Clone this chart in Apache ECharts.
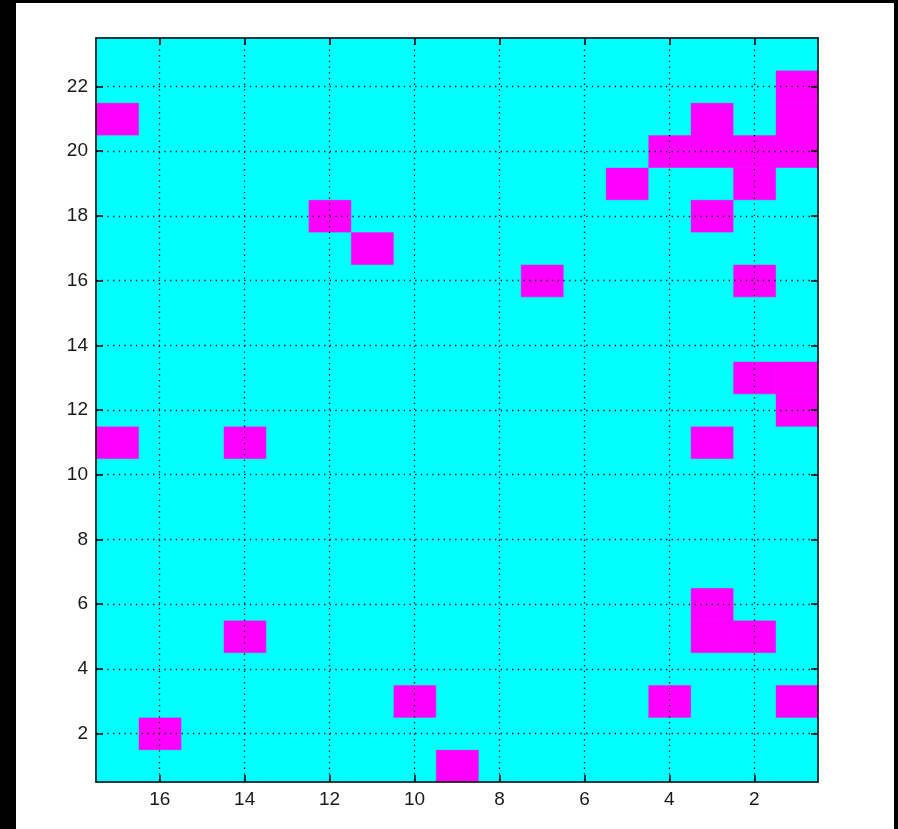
<!DOCTYPE html>
<html>
<head>
<meta charset="utf-8">
<script src="https://cdn.jsdelivr.net/npm/echarts@6/dist/echarts.min.js"></script>
<style>
  html, body { margin: 0; padding: 0; background: #fff; }
  #main { width: 898px; height: 829px; }
</style>
</head>
<body>
<div id="main"></div>
<script>
// grid size (columns along x, rows along y)
const nCols = 17
const nRows = 23
// tick labels
const xTicks = [2, 4, 6, 8, 10, 12, 14, 16]
const yTicks = [2, 4, 6, 8, 10, 12, 14, 16, 18, 20, 22]
// magenta cells as [column, row], everything else is cyan
const magentaCells = [
  [1, 22],
  [17, 21], [3, 21], [1, 21],
  [4, 20], [3, 20], [2, 20], [1, 20],
  [5, 19], [2, 19],
  [12, 18], [3, 18],
  [11, 17],
  [7, 16], [2, 16],
  [2, 13], [1, 13],
  [1, 12],
  [17, 11], [14, 11], [3, 11],
  [3, 6],
  [14, 5], [3, 5], [2, 5],
  [10, 3], [4, 3], [1, 3],
  [16, 2],
  [9, 1]
]

const colors = ['#00ffff', '#ff00ff']

// full matrix [x, y, value]
const cells = []
for (let y = 1; y <= nRows; y++) {
  for (let x = 1; x <= nCols; x++) {
    const hit = magentaCells.some(c => c[0] === x && c[1] === y)
    cells.push([x, y, hit ? 1 : 0])
  }
}

const chart = echarts.init(document.getElementById('main'))

const labelStyle = {
  color: '#1a1a1a',
  fontFamily: 'Liberation Sans',
  fontSize: 19,
  margin: 8
}
const dotted = { color: '#000', width: 1.3, type: [1.3, 4.4] }

const option = {
  animation: false,
  backgroundColor: '#fff',
  graphic: [
    { type: 'rect', shape: { x: 0, y: 0, width: 16, height: 829 }, style: { fill: '#000' } },
    { type: 'rect', shape: { x: 0, y: 0, width: 898, height: 3 }, style: { fill: '#000' } },
    { type: 'rect', shape: { x: 894, y: 0, width: 4, height: 829 }, style: { fill: '#000' } }
  ],
  grid: {
    left: 96,
    top: 38,
    width: 722,
    height: 744,
    show: true,
    backgroundColor: '#00ffff',
    borderWidth: 0
  },
  xAxis: [
    {
      type: 'value',
      min: 0.5,
      max: nCols + 0.5,
      inverse: true,
      z: 10,
      axisLine: { lineStyle: { color: '#000', width: 1.5 } },
      axisTick: { inside: true, length: 7, customValues: xTicks, lineStyle: { color: '#000', width: 1.5 } },
      axisLabel: Object.assign({ customValues: xTicks }, labelStyle),
      splitLine: { show: true, lineStyle: dotted }
    },
    {
      type: 'value',
      position: 'top',
      min: 0.5,
      max: nCols + 0.5,
      inverse: true,
      z: 10,
      axisLine: { lineStyle: { color: '#000', width: 1.5 } },
      axisTick: { inside: true, length: 7, customValues: xTicks, lineStyle: { color: '#000', width: 1.5 } },
      axisLabel: { show: false },
      splitLine: { show: false }
    }
  ],
  yAxis: [
    {
      type: 'value',
      min: 0.5,
      max: nRows + 0.5,
      z: 10,
      axisLine: { show: true, lineStyle: { color: '#000', width: 1.5 } },
      axisTick: { show: true, inside: true, length: 7, customValues: yTicks, lineStyle: { color: '#000', width: 1.5 } },
      axisLabel: Object.assign({ customValues: yTicks }, labelStyle),
      splitLine: { show: true, lineStyle: dotted }
    },
    {
      type: 'value',
      position: 'right',
      min: 0.5,
      max: nRows + 0.5,
      z: 10,
      axisLine: { show: true, lineStyle: { color: '#000', width: 1.5 } },
      axisTick: { show: true, inside: true, length: 7, customValues: yTicks, lineStyle: { color: '#000', width: 1.5 } },
      axisLabel: { show: false },
      splitLine: { show: false }
    }
  ],
  series: [
    {
      type: 'custom',
      xAxisIndex: 0,
      yAxisIndex: 0,
      z: 1,
      data: cells,
      renderItem: function (params, api) {
        const x = api.value(0)
        const y = api.value(1)
        const c = colors[api.value(2)]
        const p0 = api.coord([x + 0.5, y + 0.5])
        const p1 = api.coord([x - 0.5, y - 0.5])
        return {
          type: 'rect',
          shape: { x: p0[0], y: p0[1], width: p1[0] - p0[0], height: p1[1] - p0[1] },
          style: { fill: c, stroke: c, lineWidth: 0.6 }
        }
      }
    }
  ]
}

chart.setOption(option)
</script>
</body>
</html>
